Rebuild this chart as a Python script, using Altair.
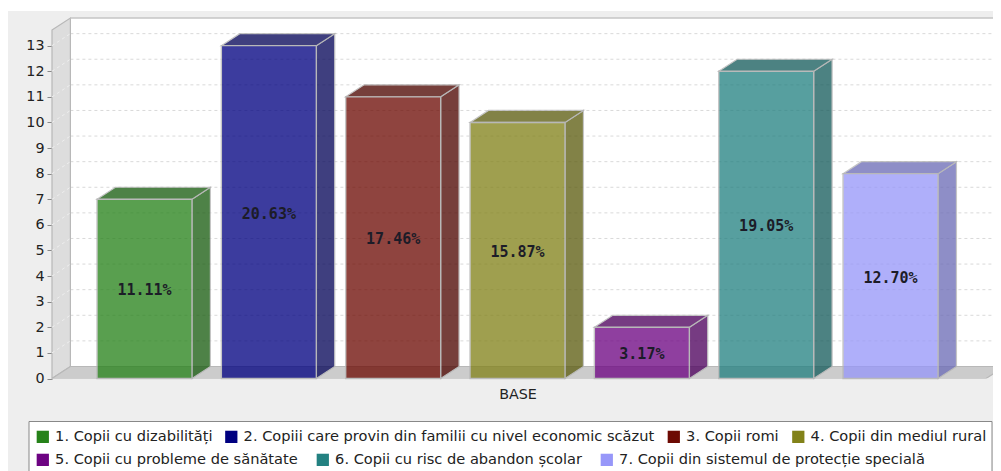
import altair as alt
import pandas as pd

names = ["1. Copii cu dizabilități", "2. Copiii care provin din familii cu nivel economic scăzut",
         "3. Copii romi", "4. Copii din mediul rural", "5. Copii cu probleme de sănătate",
         "6. Copii cu risc de abandon școlar", "7. Copii din sistemul de protecție specială"]
values = [7, 13, 11, 10, 2, 12, 8]
percent = ["11.11%", "20.63%", "17.46%", "15.87%", "3.17%", "19.05%", "12.70%"]
colors = ["#268219", "#000080", "#6d0a03", "#828219", "#6d0382", "#238181", "#9797f9"]
sides = ["#1d5f14", "#0a0a5c", "#500a05", "#5f5f14", "#500560", "#1a5f5f", "#6f6fb8"]
ticks = list(range(0, 14))

# layout in data units
X_MIN, X_MAX = -0.744, 6.824
Y_MAX = 14.08
HALF = 0.382
DX, DY = 0.148, 0.469
FLOOR_END = 6.768

xs = alt.Scale(domain=[X_MIN, X_MAX], nice=False, zero=False)
ys = alt.Scale(domain=[0, Y_MAX], nice=False, zero=False)

x_axis = alt.Axis(values=[3], labelExpr="'BASE'", ticks=False, domain=False, grid=False,
                  labelFontSize=14.3, labelFont="DejaVu Sans", labelColor="#222222", labelPadding=9)
y_axis = alt.Axis(values=ticks, grid=False, domain=False, tickColor="#888888", tickSize=5,
                  labelFontSize=14.3, labelFont="DejaVu Sans", labelColor="#222222", labelPadding=3, format="d")

front, side_rows, top_rows = [], [], []
for i, (n, v, p, c, s) in enumerate(zip(names, values, percent, colors, sides)):
    l, r = i - HALF, i + HALF
    front.append(dict(name=n, l=l, r=r, v=v, zero=0, mid=v / 2, pct=p, cx=i))
    side_rows += [dict(bar=i, x=r, t=v, b=0, fill=s), dict(bar=i, x=r + DX, t=v + DY, b=DY, fill=s)]
    top_rows += [dict(bar=i, x=l, t=v, b=v, fill=s), dict(bar=i, x=l + DX, t=v + DY, b=v, fill=s),
                 dict(bar=i, x=r, t=v + DY, b=v, fill=s), dict(bar=i, x=r + DX, t=v + DY, b=v + DY, fill=s)]
front = pd.DataFrame(front)


def X(f):
    return alt.X(f, type="quantitative", scale=xs, title=None, axis=x_axis)


def Y(f):
    return alt.Y(f, type="quantitative", scale=ys, title=None, axis=y_axis)


back = alt.Chart(pd.DataFrame([dict(l=X_MIN + DX, r=X_MAX, t=Y_MAX, b=DY)])).mark_rect(
    fill="#ffffff", clip=True).encode(x=X("l"), x2="r", y=Y("t"), y2="b")

grid_back = alt.Chart(pd.DataFrame([dict(l=X_MIN + DX, r=X_MAX, y=t + DY) for t in ticks[1:]])).mark_rule(
    color="#d9d9d9", strokeDash=[3, 3], strokeWidth=1).encode(x=X("l"), x2="r", y=Y("y"))
wall = alt.Chart(pd.DataFrame([dict(x=X_MIN, t=Y_MAX - DY, b=0), dict(x=X_MIN + DX, t=Y_MAX, b=DY)])).mark_area(
    fill="#dddddd", stroke="#b8b8b8", strokeWidth=1.2).encode(x=X("x"), y=Y("t"), y2="b")
grid_wall = alt.Chart(pd.DataFrame([dict(l=X_MIN, r=X_MIN + DX, a=t, b=t + DY) for t in ticks[1:]])).mark_rule(
    color="#eeeeee", strokeDash=[3, 3], strokeWidth=1).encode(x=X("l"), x2="r", y=Y("a"), y2="b")
floor = alt.Chart(pd.DataFrame([dict(x=X_MIN, t=0, b=0), dict(x=X_MIN + DX, t=DY, b=0),
                                dict(x=FLOOR_END, t=DY, b=0), dict(x=FLOOR_END + DX, t=DY, b=DY)])).mark_area(
    fill="#cccccc", stroke="#b8b8b8", strokeWidth=1.2, clip=True).encode(x=X("x"), y=Y("t"), y2="b")
top_line = alt.Chart(pd.DataFrame([dict(l=X_MIN + DX, r=X_MAX, y=Y_MAX)])).mark_rule(
    color="#c4c4c4", strokeWidth=1.5).encode(x=X("l"), x2="r", y=Y("y"))

side_top = pd.DataFrame(side_rows + [dict(r, bar=r["bar"] + 100) for r in top_rows])
faces = alt.Chart(side_top).mark_area(opacity=0.78, stroke="#b5b5b5", strokeWidth=1.2).encode(
    x=X("x"), y=Y("t"), y2="b", detail="bar:N", fill=alt.Fill("fill:N", scale=None))


def bar_row(first, last, legend_y, column_padding):
    """Bars of one legend row: each row has a legend of its own, laid out by its text widths."""
    row = front.iloc[first:last]
    return alt.Chart(row).mark_rect(opacity=0.76, stroke="#b5b5b5", strokeWidth=1.4).encode(
        x=X("l"), x2="r", y=Y("v"), y2="zero",
        color=alt.Color("name:N", scale=alt.Scale(domain=names[first:last], range=colors[first:last]),
                        sort=names[first:last],
                        legend=alt.Legend(
                            title=None, orient="none", legendX=-16.5, legendY=legend_y,
                            columns=last - first, direction="horizontal", padding=0,
                            symbolType="square", symbolSize=150, symbolOpacity=1, symbolStrokeWidth=0,
                            labelFontSize=14.6, labelFont="DejaVu Sans", labelColor="#222222", labelLimit=600,
                            columnPadding=column_padding, labelOffset=5)))


bars_a = bar_row(0, 4, 411.5, 11.5)
bars_b = bar_row(4, 7, 434.5, 17)

labels = alt.Chart(front).mark_text(font="DejaVu Sans Mono", fontSize=15, fontWeight="bold", color="#1c1c28",
                                    dy=1.5).encode(x=X("cx"), y=Y("mid"), text="pct:N")

strip = alt.Chart(pd.DataFrame([dict(a=0)])).mark_rect(fill="#ffffff", clip=False).encode(
    x=alt.value(-44), x2=alt.value(941), y=alt.value(-10), y2=alt.value(-7))
legend_box = alt.Chart(pd.DataFrame([dict(a=0)])).mark_rect(
    fill="#ffffff", stroke="#888888", strokeWidth=1, clip=False).encode(
    x=alt.value(-23), x2=alt.value(940), y=alt.value(403.5), y2=alt.value(470))

chart = alt.layer(back, strip, legend_box, grid_back, wall, grid_wall, floor, top_line, faces,
                  bars_a, bars_b, labels).resolve_scale(color="independent").properties(
    width=941, height=360.5, background="#eeeeee",
    padding=dict(left=44, top=10, right=0, bottom=92),
    autosize=alt.AutoSizeParams(type="none"),
).configure_view(stroke=None)

chart.save("out.html", embed_options={"renderer": "svg", "actions": False})
